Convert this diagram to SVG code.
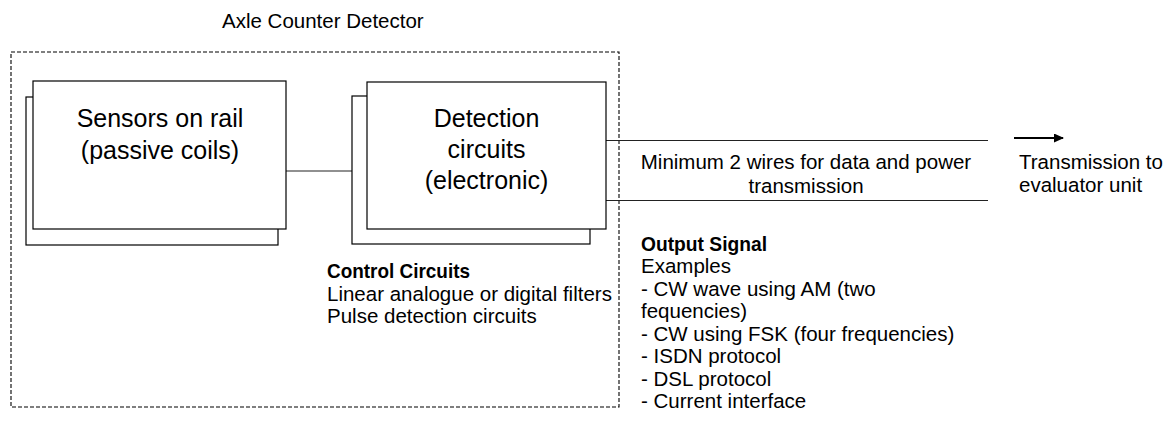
<svg xmlns="http://www.w3.org/2000/svg" width="1167" height="427" viewBox="0 0 1167 427">
  <style>
    text { font-family: "Liberation Sans", Arial, sans-serif; fill: #000; }
    .big { font-size: 25px; text-anchor: middle; }
    .body { font-size: 20.5px; }
    .bold { font-size: 20.5px; font-weight: bold; }
    .box { fill: #fff; stroke: #000; stroke-width: 1.2; }
    .wire { stroke: #222; stroke-width: 1.1; fill: none; }
    .dash { fill: none; stroke: #000; stroke-width: 1.1; stroke-dasharray: 4 2; }
  </style>
  <defs>
    <marker id="arrow" viewBox="0 0 10 10" refX="9" refY="5" markerWidth="10" markerHeight="9" markerUnits="userSpaceOnUse" orient="auto" preserveAspectRatio="none">
      <path d="M0,0 L10,5 L0,10 z" fill="#000"/>
    </marker>
  </defs>
  <rect width="1167" height="427" fill="#fff"/>

  <g id="axle-counter-detector">
    <rect class="dash" x="11" y="52" width="608" height="355"/>
    <text class="body" x="222" y="28">Axle Counter Detector</text>
  </g>

  <g id="connectors">
    <line class="wire" x1="286" y1="171" x2="352" y2="171"/>
    <line class="wire" x1="606" y1="140.5" x2="988" y2="140.5"/>
    <line class="wire" x1="606" y1="200.5" x2="988" y2="200.5"/>
    <line x1="1014" y1="138" x2="1063" y2="138" stroke="#000" stroke-width="2.2" marker-end="url(#arrow)"/>
  </g>

  <g id="sensors">
    <rect class="box" x="26" y="97" width="252" height="148"/>
    <rect class="box" x="33" y="81" width="253" height="148"/>
    <text class="big" x="160" y="127">Sensors on rail</text>
    <text class="big" x="160" y="159">(passive coils)</text>
  </g>

  <g id="detection">
    <rect class="box" x="352" y="96" width="238" height="148"/>
    <rect class="box" x="367" y="82" width="239" height="147"/>
    <text class="big" x="486.5" y="127">Detection</text>
    <text class="big" x="486.5" y="158">circuits</text>
    <text class="big" x="486.5" y="189">(electronic)</text>
  </g>

  <g id="control-circuits">
    <text class="bold" x="327" y="278" textLength="143" lengthAdjust="spacingAndGlyphs">Control Circuits</text>
    <text class="body" x="327" y="300.5">Linear analogue or digital filters</text>
    <text class="body" x="327" y="323">Pulse detection circuits</text>
  </g>

  <g id="wires-label">
    <text class="body" x="806" y="169" text-anchor="middle">Minimum 2 wires for data and power</text>
    <text class="body" x="806" y="193" text-anchor="middle">transmission</text>
  </g>

  <g id="transmission">
    <text class="body" x="1019" y="169">Transmission to</text>
    <text class="body" x="1019" y="192">evaluator unit</text>
  </g>

  <g id="output-signal">
    <text class="bold" x="641" y="251" textLength="126" lengthAdjust="spacingAndGlyphs">Output Signal</text>
    <text class="body" x="641" y="273">Examples</text>
    <text class="body" x="641" y="295.5">- CW wave using AM (two</text>
    <text class="body" x="641" y="318">fequencies)</text>
    <text class="body" x="641" y="340.5">- CW using FSK (four frequencies)</text>
    <text class="body" x="641" y="363">- ISDN protocol</text>
    <text class="body" x="641" y="385.5">- DSL protocol</text>
    <text class="body" x="641" y="408">- Current interface</text>
  </g>
</svg>
